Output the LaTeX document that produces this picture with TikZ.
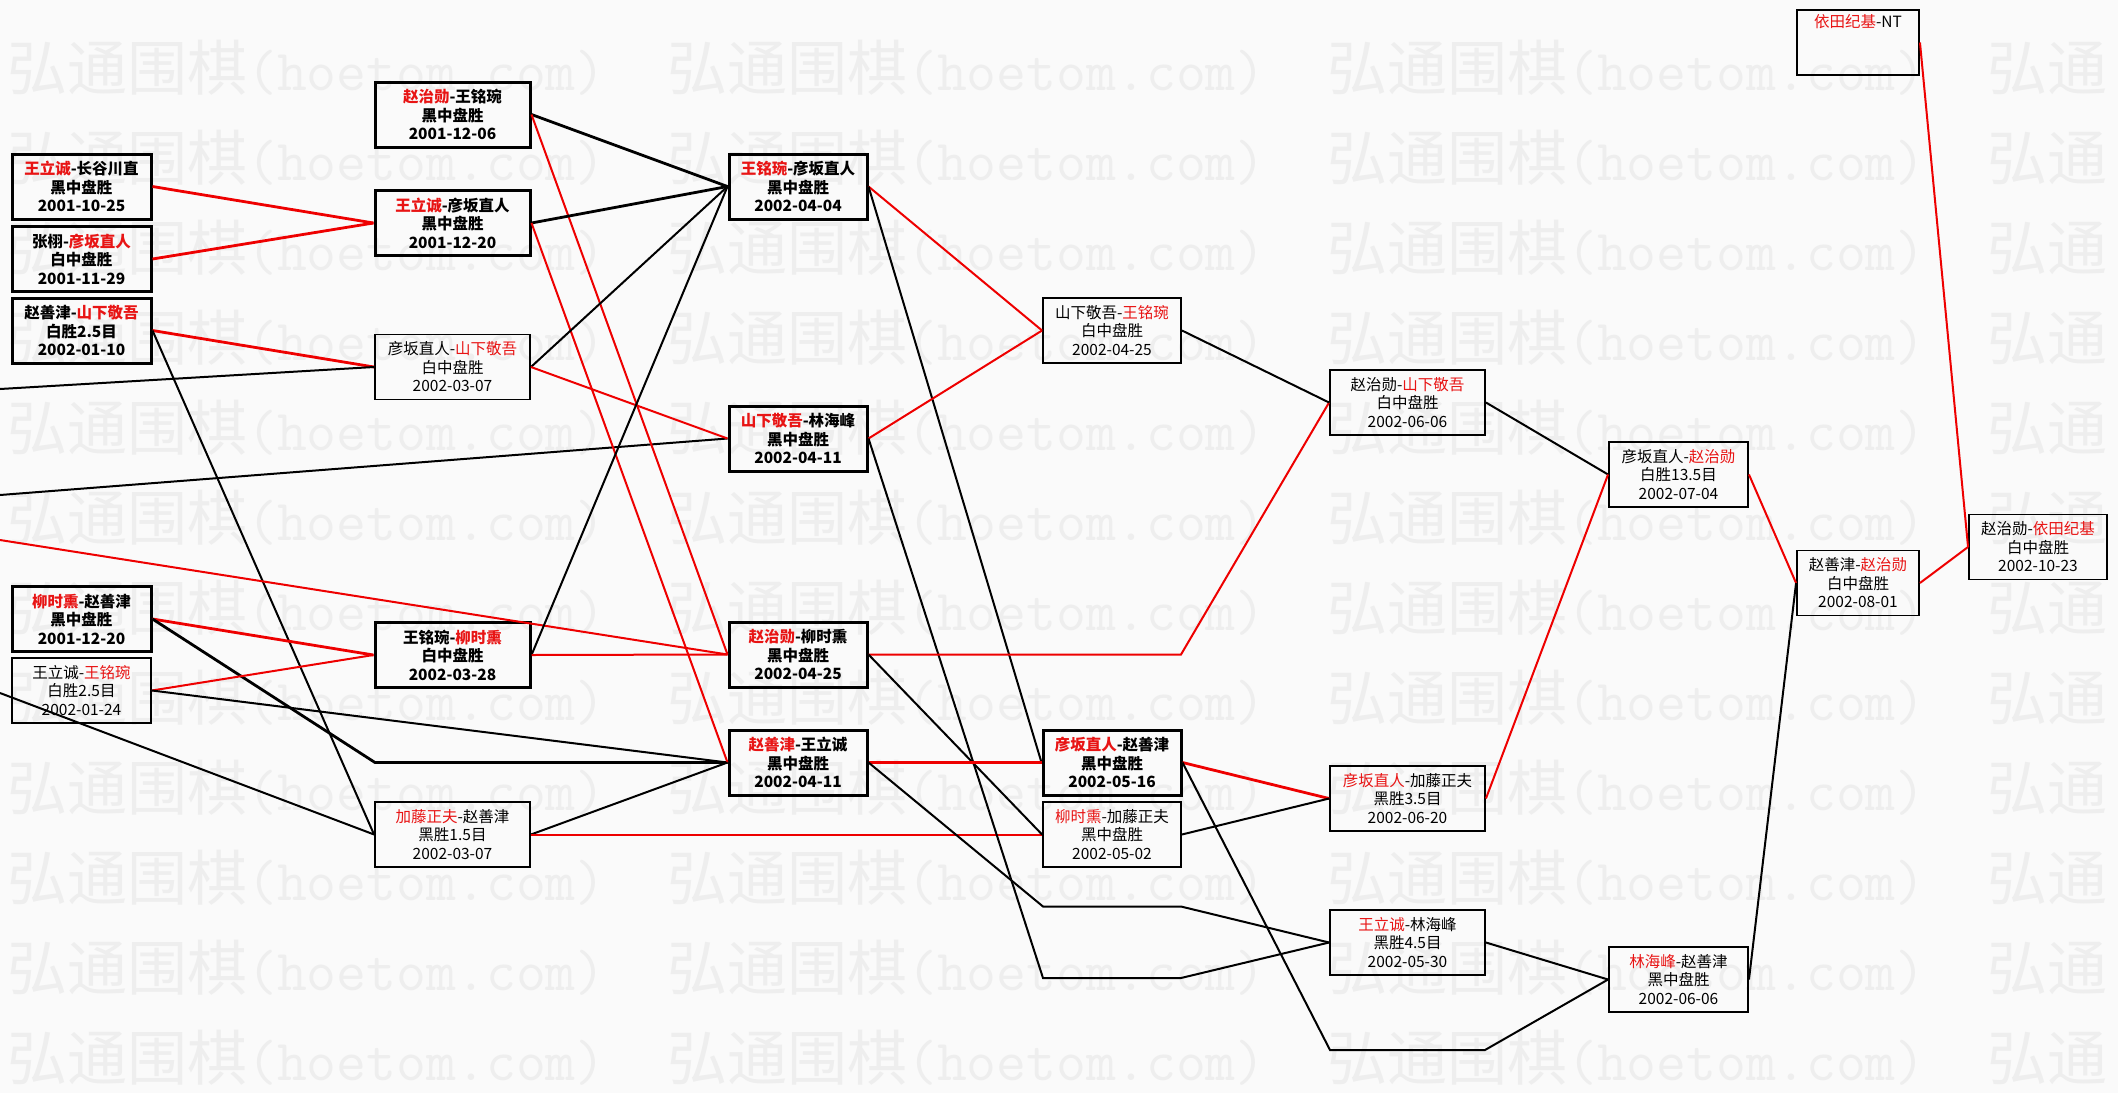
\documentclass[tikz,border=0pt]{standalone}
\usepackage{fontspec}
\setmainfont{Noto Sans CJK SC}
\definecolor{wr}{RGB}{232,20,20}
\definecolor{lr}{RGB}{238,0,0}
\definecolor{wmc}{RGB}{238,238,238}
\definecolor{bgc}{RGB}{250,250,250}
\newcommand\R[1]{\textcolor{wr}{#1}}
\newcommand\wmtext{\fontsize{60}{60}\selectfont 弘通围棋{\ttfamily\fontsize{58}{58}\selectfont(hoetom.com)}}
\begin{document}
\begin{tikzpicture}[x=1pt,y=-1pt,
  box/.style={draw=black, inner sep=0pt, align=center, minimum height=65pt, text=black},
  thk/.style={box, line width=3pt, font=\fontsize{15.5}{18.5}\selectfont\bfseries},
  thn/.style={box, line width=1.9pt, font=\fontsize{15.5}{18.5}\selectfont},
  cA/.style={minimum width=139pt},
  cB/.style={minimum width=155pt},
  cC/.style={minimum width=138pt},
  cG/.style={minimum width=122pt},
  rthk/.style={draw=lr, line width=2.8pt},
  rthn/.style={draw=lr, line width=2pt},
  bthk/.style={draw=black, line width=2.8pt},
  bthn/.style={draw=black, line width=2pt},
  wmk/.style={anchor=west, inner sep=0pt, text=wmc}
]
\useasboundingbox (0,0) rectangle (2118,1093);
\fill[bgc] (0,0) rectangle (2118,1093);
% watermark
\foreach \r in {0,...,11}{
  \foreach \k in {0,...,2}{
    \node[wmk] (wm-\r-\k) at ({7+660*\k},{68+90*\r}) {\wmtext};
  }
  \node[wmk] (wm-\r-3) at (1987,{68+90*\r}) {\fontsize{60}{60}\selectfont 弘通};
}

% column A
\node[thk,cA] (A1) at (81.5,186.5) {\R{王立诚}-长谷川直\\黑中盘胜\\2001-10-25};
\node[thk,cA] (A2) at (81.5,259) {张栩-\R{彦坂直人}\\白中盘胜\\2001-11-29};
\node[thk,cA] (A3) at (81.5,330.5) {赵善津-\R{山下敬吾}\\白胜2.5目\\2002-01-10};
\node[thk,cA] (A4) at (81.5,619) {\R{柳时熏}-赵善津\\黑中盘胜\\2001-12-20};
\node[thn,cA] (A5) at (81.5,690.5) {王立诚-\R{王铭琬}\\白胜2.5目\\2002-01-24};
% column B
\node[thk,cB] (B1) at (452.5,114.5) {\R{赵治勋}-王铭琬\\黑中盘胜\\2001-12-06};
\node[thk,cB] (B2) at (452.5,223) {\R{王立诚}-彦坂直人\\黑中盘胜\\2001-12-20};
\node[thn,cB] (B3) at (452.5,367) {彦坂直人-\R{山下敬吾}\\白中盘胜\\2002-03-07};
\node[thk,cB] (B4) at (452.5,655) {王铭琬-\R{柳时熏}\\白中盘胜\\2002-03-28};
\node[thn,cB] (B5) at (452.5,834.5) {\R{加藤正夫}-赵善津\\黑胜1.5目\\2002-03-07};
% column C
\node[thk,cC] (C1) at (798,186.5) {\R{王铭琬}-彦坂直人\\黑中盘胜\\2002-04-04};
\node[thk,cC] (C2) at (798,438.5) {\R{山下敬吾}-林海峰\\黑中盘胜\\2002-04-11};
\node[thk,cC] (C3) at (798,654.5) {\R{赵治勋}-柳时熏\\黑中盘胜\\2002-04-25};
\node[thk,cC] (C4) at (798,762.5) {\R{赵善津}-王立诚\\黑中盘胜\\2002-04-11};
% column D
\node[thn,cC] (D1) at (1112,330.5) {山下敬吾-\R{王铭琬}\\白中盘胜\\2002-04-25};
\node[thk,cC] (D2) at (1112,762.5) {\R{彦坂直人}-赵善津\\黑中盘胜\\2002-05-16};
\node[thn,cC] (D3) at (1112,834.5) {\R{柳时熏}-加藤正夫\\黑中盘胜\\2002-05-02};
% column E
\node[thn,cB] (E1) at (1407.5,402.5) {赵治勋-\R{山下敬吾}\\白中盘胜\\2002-06-06};
\node[thn,cB] (E2) at (1407.5,798.5) {\R{彦坂直人}-加藤正夫\\黑胜3.5目\\2002-06-20};
\node[thn,cB] (E3) at (1407.5,942.5) {\R{王立诚}-林海峰\\黑胜4.5目\\2002-05-30};
% column F
\node[thn,cA] (F1) at (1678.5,474.5) {彦坂直人-\R{赵治勋}\\白胜13.5目\\2002-07-04};
\node[thn,cA] (F2) at (1678.5,979.5) {\R{林海峰}-赵善津\\黑中盘胜\\2002-06-06};
% G, H, I
\node[thn,cG] (G1) at (1858,583) {赵善津-\R{赵治勋}\\白中盘胜\\2002-08-01};
\node[thn,cC] (H1) at (2038,547) {赵治勋-\R{依田纪基}\\白中盘胜\\2002-10-23};
\node[thn,cG] (I1) at (1858,42.5) {\R{依田纪基}-NT\\\strut\\\strut};

% free ends and bend points
\coordinate (L1) at (0,389);
\coordinate (L2) at (0,495);
\coordinate (L3) at (0,540);
\coordinate (L4) at (0,693);
\coordinate (bB) at (375,762.5);
\coordinate (bD1) at (1043,906.5);
\coordinate (bD2) at (1181,906.5);
\coordinate (bD3) at (1043,978);
\coordinate (bD4) at (1181,978);
\coordinate (bD5) at (1181,654.5);
\coordinate (bE1) at (1330,1050);
\coordinate (bE2) at (1485,1050);

% connectors A -> B/C
\draw[rthk] (A1.east) -- (B2.west);
\draw[rthk] (A2.east) -- (B2.west);
\draw[rthk] (A3.east) -- (B3.west);
\draw[bthn] (A3.east) -- (B5.west);
\draw[rthk] (A4.east) -- (B4.west);
\draw[bthk] (A4.east) -- (bB) -- (C4.west);
\draw[rthn] (A5.east) -- (B4.west);
\draw[bthn] (A5.east) -- (C4.west);
\draw[bthn] (L1) -- (B3.west);
\draw[bthn] (L2) -- (C2.west);
\draw[rthn] (L3) -- (C3.west);
\draw[bthn] (L4) -- (B5.west);
% B -> C/D
\draw[bthk] (B1.east) -- (C1.west);
\draw[rthn] (B1.east) -- (C3.west);
\draw[bthk] (B2.east) -- (C1.west);
\draw[rthn] (B2.east) -- (C4.west);
\draw[bthn] (B3.east) -- (C1.west);
\draw[rthn] (B3.east) -- (C2.west);
\draw[bthn] (B4.east) -- (C1.west);
\draw[rthn] (B4.east) -- (C3.west);
\draw[bthn] (B5.east) -- (C4.west);
\draw[rthn] (B5.east) -- (D3.west);
% C -> D/E
\draw[rthn] (C1.east) -- (D1.west);
\draw[bthn] (C1.east) -- (D2.west);
\draw[rthn] (C2.east) -- (D1.west);
\draw[bthn] (C2.east) -- (bD3) -- (bD4) -- (E3.west);
\draw[rthn] (C3.east) -- (bD5) -- (E1.west);
\draw[bthn] (C3.east) -- (D3.west);
\draw[rthk] (C4.east) -- (D2.west);
\draw[bthn] (C4.east) -- (bD1) -- (bD2) -- (E3.west);
% D -> E/F
\draw[bthn] (D1.east) -- (E1.west);
\draw[rthk] (D2.east) -- (E2.west);
\draw[bthn] (D2.east) -- (bE1) -- (bE2) -- (F2.west);
\draw[bthn] (D3.east) -- (E2.west);
% E -> F
\draw[bthn] (E1.east) -- (F1.west);
\draw[rthn] (E2.east) -- (F1.west);
\draw[bthn] (E3.east) -- (F2.west);
% F -> G -> H
\draw[rthn] (F1.east) -- (G1.west);
\draw[bthn] (F2.east) -- (G1.west);
\draw[rthn] (G1.east) -- (H1.west);
\draw[rthn] (I1.east) -- (H1.west);
\end{tikzpicture}
\end{document}
